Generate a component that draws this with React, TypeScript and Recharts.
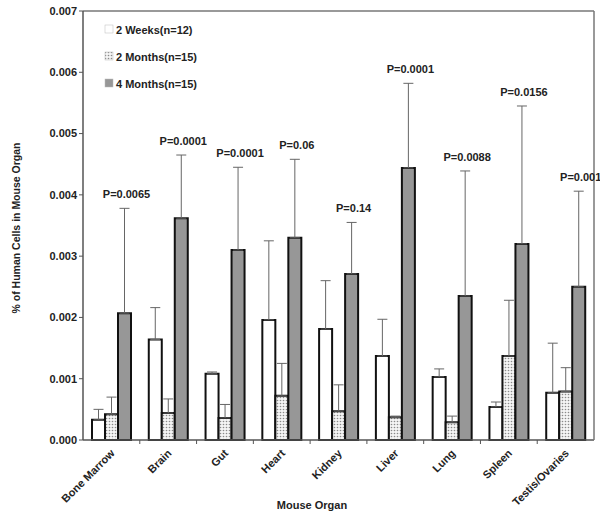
import { BarChart, Bar, XAxis, YAxis, ErrorBar, LabelList, ReferenceLine } from "recharts"

const organs = ["Bone Marrow", "Brain", "Gut", "Heart", "Kidney", "Liver", "Lung", "Spleen", "Testis/Ovaries"]

// mean % of human cells
const weeks2 = [0.00033, 0.00164, 0.00108, 0.00196, 0.00181, 0.00137, 0.00103, 0.00054, 0.00077]
const months2 = [0.00042, 0.00044, 0.00036, 0.00072, 0.00047, 0.00037, 0.00029, 0.00137, 0.00079]
const months4 = [0.00207, 0.00362, 0.0031, 0.0033, 0.00271, 0.00444, 0.00235, 0.0032, 0.0025]

// upper error (only the top whisker is drawn)
const weeks2Err = [0.00017, 0.00052, 0.00003, 0.00129, 0.00079, 0.0006, 0.00013, 0.00008, 0.00081]
const months2Err = [0.00028, 0.00023, 0.00022, 0.00053, 0.00043, 0.00002, 0.0001, 0.00091, 0.00039]
const months4Err = [0.00171, 0.00103, 0.00135, 0.00128, 0.00084, 0.00138, 0.00204, 0.00225, 0.00156]

const pValues = ["P=0.0065", "P=0.0001", "P=0.0001", "P=0.06", "P=0.14", "P=0.0001", "P=0.0088", "P=0.0156", "P=0.001"]

const yTicks = [0, 0.001, 0.002, 0.003, 0.004, 0.005, 0.006, 0.007]

const seriesNames = ["2 Weeks(n=12)", "2 Months(n=15)", "4 Months(n=15)"]

const FONT = "'Liberation Sans', Arial, sans-serif"
const GRAY = "#979797"

const data = organs.map((organ, i) => ({
  organ,
  w2: weeks2[i],
  m2: months2[i],
  m4: months4[i],
  w2Err: [0, weeks2Err[i]],
  m2Err: [0, months2Err[i]],
  m4Err: [0, months4Err[i]],
  p: pValues[i],
}))

const renderP = (props: any) => {
  const { x, y, width, height, index, value } = props
  const i = typeof index === "number" ? index : pValues.indexOf(value)
  const perUnit = months4[i] ? height / months4[i] : 0
  const top = y - months4Err[i] * perUnit
  return (
    <text
      x={x + width / 2 + 2}
      y={top - 10}
      textAnchor="middle"
      fontFamily={FONT}
      fontWeight="bold"
      fontSize={11}
      fill="#222"
    >
      {pValues[i]}
    </text>
  )
}

// label at the category centre, small tick mark at the band boundary (like the original)
const XTick = ({ x, y, payload, index }: any) => (
  <g>
    {index < organs.length - 1 && (
      <line x1={x + 28.4} y1={y - 8} x2={x + 28.4} y2={y - 4} stroke="#555" strokeWidth={1} />
    )}
    <text
      x={x + 4}
      y={y + 6}
      textAnchor="end"
      transform={`rotate(-45, ${x + 4}, ${y + 6})`}
      fontFamily={FONT}
      fontWeight="bold"
      fontSize={11}
      fill="#222"
    >
      {payload.value}
    </text>
  </g>
)

const LegendBox = () => {
  const fills = ["#fff", "url(#dots)", GRAY]
  return (
    <svg width={130} height={80} style={{ position: "absolute", left: 104, top: 21 }}>
      {seriesNames.map((name, i) => (
        <g key={name}>
          <rect x={1} y={4 + i * 27} width={8} height={8} fill={fills[i]} stroke="#bbb" strokeWidth={0.5} />
          <text x={12} y={12.5 + i * 27} fontFamily={FONT} fontWeight="bold" fontSize={11} fill="#222">
            {name}
          </text>
        </g>
      ))}
    </svg>
  )
}

export default function App() {
  return (
    <div style={{ position: "absolute", left: 0, top: 0, width: 600, height: 516, background: "#fff" }}>
      <BarChart
        width={600}
        height={516}
        data={data}
        margin={{ top: 11, right: 5, bottom: 0, left: 0 }}
        barCategoryGap={9}
        barGap={0}
      >
        <defs>
          <pattern id="dots" width="3" height="3" patternUnits="userSpaceOnUse">
            <rect width="3" height="3" fill="#f4f4f4" />
            <circle cx="1.5" cy="1.5" r="0.8" fill="#8a8a8a" />
          </pattern>
        </defs>
        <XAxis
          dataKey="organ"
          height={76}
          interval={0}
          tick={<XTick />}
          tickLine={false}
          axisLine={{ stroke: "#555", strokeWidth: 1.5 }}
          label={() => (
            <text x={312} y={509} textAnchor="middle" fontFamily={FONT} fontWeight="bold" fontSize={11} fill="#222">
              Mouse Organ
            </text>
          )}
        />
        <YAxis
          yAxisId="left"
          width={83}
          domain={[0, 0.007]}
          ticks={yTicks}
          tickFormatter={(v: number) => v.toFixed(3)}
          tick={{ fontFamily: FONT, fontWeight: "bold", fontSize: 11, fill: "#222" }}
          tickSize={4}
          tickLine={{ stroke: "#555" }}
          axisLine={{ stroke: "#555", strokeWidth: 1.5 }}
          label={() => (
            <text
              x={20}
              y={228}
              textAnchor="middle"
              transform="rotate(-90, 20, 228)"
              fontFamily={FONT}
              fontWeight="bold"
              fontSize={10.5}
              fill="#222"
            >
              % of Human Cells in Mouse Organ
            </text>
          )}
        />
        <YAxis
          yAxisId="right"
          orientation="right"
          width={1}
          domain={[0, 0.007]}
          tick={false}
          tickLine={false}
          axisLine={{ stroke: "#777", strokeWidth: 1.5 }}
        />
        <ReferenceLine yAxisId="left" y={0.007} stroke="#777" strokeWidth={1.5} />
        <Bar yAxisId="left" dataKey="w2" barSize={13} fill="#fff" stroke="#111" strokeWidth={2} isAnimationActive={false}>
          <ErrorBar dataKey="w2Err" direction="y" width={5} stroke="#666" strokeWidth={1} />
        </Bar>
        <Bar yAxisId="left" dataKey="m2" barSize={13} fill="url(#dots)" stroke="#111" strokeWidth={2} isAnimationActive={false}>
          <ErrorBar dataKey="m2Err" direction="y" width={5} stroke="#666" strokeWidth={1} />
        </Bar>
        <Bar yAxisId="left" dataKey="m4" barSize={13} fill={GRAY} stroke="#111" strokeWidth={2} isAnimationActive={false}>
          <ErrorBar dataKey="m4Err" direction="y" width={5} stroke="#666" strokeWidth={1} />
          <LabelList dataKey="p" content={renderP} />
        </Bar>
      </BarChart>
      <LegendBox />
    </div>
  )
}
